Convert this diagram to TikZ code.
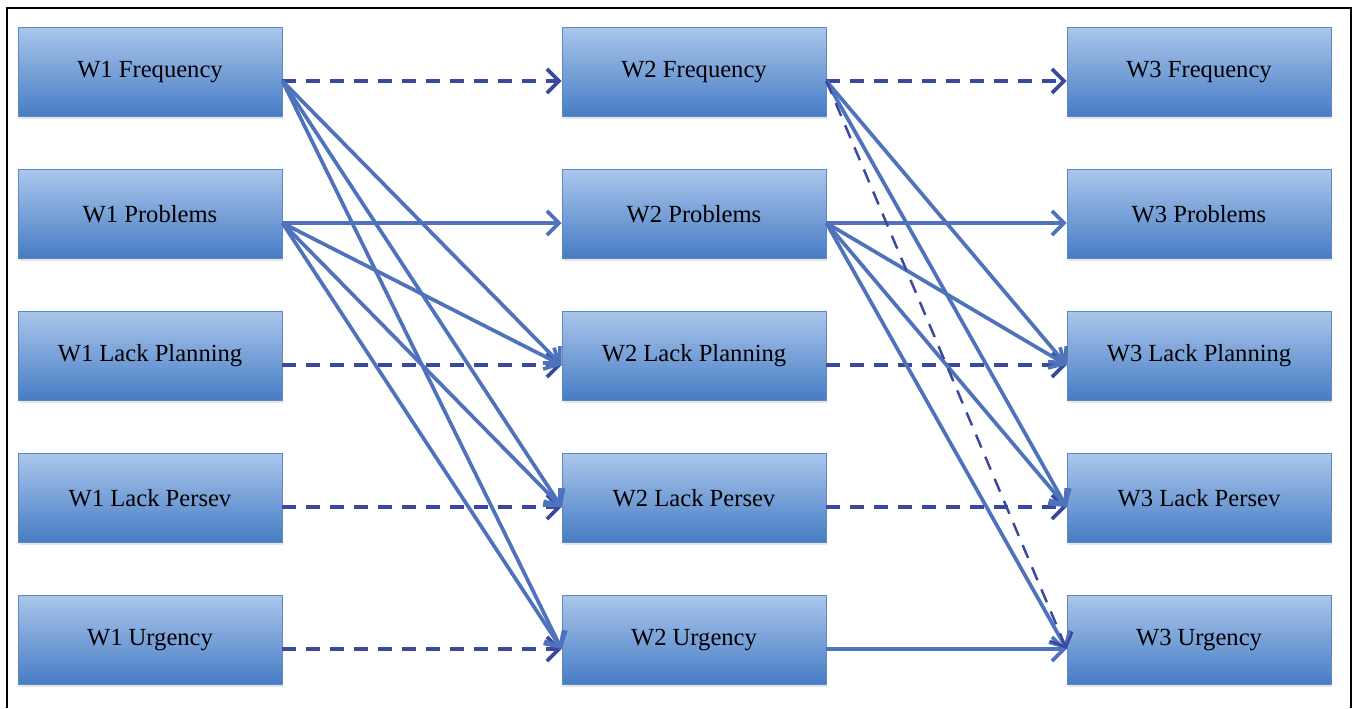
\documentclass[tikz,border=0pt]{standalone}
\usepackage{fontspec}
\setmainfont{Liberation Serif}
\usetikzlibrary{arrows.meta,shadows}

\definecolor{boxtop}{RGB}{170,198,235}
\definecolor{boxbot}{RGB}{70,124,196}
\definecolor{boxline}{RGB}{96,135,196}
\definecolor{lineblue}{RGB}{78,114,188}
\definecolor{dashblue}{RGB}{58,72,158}

\tikzset{
  box/.style = {rectangle, draw=boxline, line width=0.5pt, top color=boxtop, bottom color=boxbot,
    minimum width=5.28cm, minimum height=1.78cm, font=\fontsize{14}{16}\selectfont,
    drop shadow={opacity=0.2, shadow xshift=0.6pt, shadow yshift=-1.2pt}},
  link/.style = {draw=lineblue, line width=2.1pt, -{Straight Barb[length=2.4mm,width=4.8mm]}},
  dlink/.style = {link, draw=dashblue, dash pattern=on 0.28cm off 0.2cm},
  lowrow/.style = {yshift=-0.18cm}
}

\begin{document}
\begin{tikzpicture} [x = 0.02cm, y = -0.02cm]

\useasboundingbox (0, 0) rectangle (1353, 708);
\draw[line width=1.4pt] (7, 708) -- (7, 8) -- (1351, 8) -- (1351, 708);

% wave 1
\node[box] (f1) at (150, 72){W1 Frequency};
\node[box] (p1) at (150, 214){W1 Problems};
\node[box] (lp1) at (150, 356){W1 Lack Planning};
\node[box] (ps1) at (150, 498){W1 Lack Persev};
\node[box] (u1) at (150, 640){W1 Urgency};
% wave 2
\node[box] (f2) at (694, 72){W2 Frequency};
\node[box] (p2) at (694, 214){W2 Problems};
\node[box] (lp2) at (694, 356){W2 Lack Planning};
\node[box] (ps2) at (694, 498){W2 Lack Persev};
\node[box] (u2) at (694, 640){W2 Urgency};
% wave 3
\node[box] (f3) at (1199, 72){W3 Frequency};
\node[box] (p3) at (1199, 214){W3 Problems};
\node[box] (lp3) at (1199, 356){W3 Lack Planning};
\node[box] (ps3) at (1199, 498){W3 Lack Persev};
\node[box] (u3) at (1199, 640){W3 Urgency};

% stability paths
\foreach \a/\b in {f1/f2, lp1/lp2, ps1/ps2, u1/u2, f2/f3, lp2/lp3, ps2/ps3}
  \draw[dlink] ([lowrow]\a.east) -- ([lowrow]\b.west);
\draw[link] ([lowrow]p1.east) -- ([lowrow]p2.west);
\draw[link] ([lowrow]p2.east) -- ([lowrow]p3.west);
\draw[link] ([lowrow]u2.east) -- ([lowrow]u3.west);
% cross paths
\foreach \a/\b in {f1/lp2, f1/ps2, f1/u2, p1/lp2, p1/ps2, p1/u2, f2/lp3, f2/ps3, p2/lp3, p2/ps3, p2/u3}
  \draw[link] ([lowrow]\a.east) -- ([lowrow]\b.west);
\draw[dlink, line width=1.4pt] ([lowrow]f2.east) -- ([lowrow]u3.west);
\end{tikzpicture}
\end{document}
